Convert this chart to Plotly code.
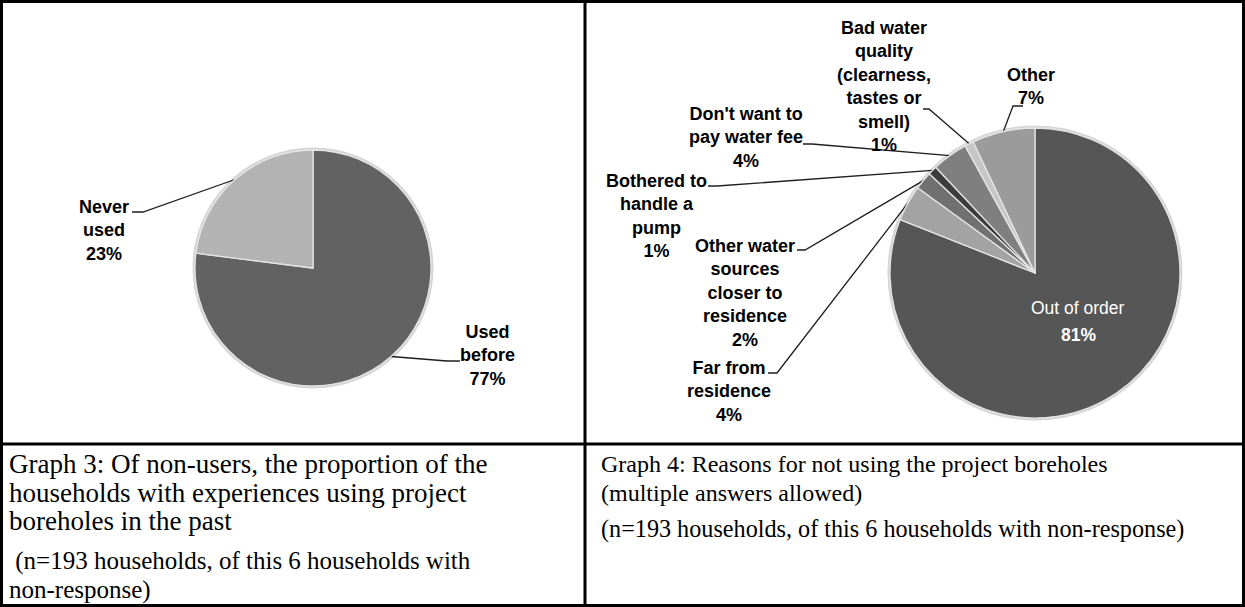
import math
import plotly.graph_objects as go

W, H = 1245, 607

# ---------------- data ----------------
g3_labels = ["Used before", "Never used"]
g3_values = [77, 23]
g3_colors = ["#626262", "#b3b3b3"]
g3_text = ["Used<br>before", "Never<br>used"]

g4_labels = ["Out of order", "Far from residence",
             "Other water sources closer to residence",
             "Bothered to handle a pump", "Don't want to pay water fee",
             "Bad water quality (clearness, tastes or smell)", "Other"]
g4_values = [81, 4, 2, 1, 4, 1, 7]
g4_colors = ["#565656", "#a3a3a3", "#707070", "#3c3c3c", "#7f7f7f", "#c6c6c6", "#9b9b9b"]
g4_text = ["Out of order", "Far from<br>residence",
           "Other water<br>sources<br>closer to<br>residence",
           "Bothered to<br>handle a<br>pump", "Don't want to<br>pay water fee",
           "Bad water<br>quality<br>(clearness,<br>tastes or<br>smell)", "Other"]

cap3 = ["Graph 3: Of non-users, the proportion of the",
        "households with experiences using project",
        "boreholes in the past"]
cap3_note = [" (n=193 households, of this 6 households with", "non-response)"]
cap4 = ["Graph 4: Reasons for not using the project boreholes",
        "(multiple answers allowed)"]
cap4_note = ["(n=193 households, of this 6 households with non-response)"]

# ---------------- layout (pixel positions) ----------------
P3 = dict(cx=313, cy=268, r=118)
P4 = dict(cx=1035, cy=273, r=145)

# label block centre, stub start/end for each slice (None = no label outside)
g3_lab = [dict(x=487, y=355, stub=(460, 447, 361)),
          dict(x=104, y=230, stub=(132, 143, 212))]
g4_lab = [None,
          dict(x=729, y=391, stub=(768, 777, 373)),
          dict(x=745, y=293, stub=(797, 805, 250)),
          dict(x=656, y=216, stub=(708, 717, 186)),
          dict(x=746, y=137.5, stub=(803, 812, 144)),
          dict(x=884, y=86.5, stub=(923, 929, 109)),
          dict(x=1031, y=86.5, stub=(1023, 1013, 106))]

SANS = "Liberation Sans, Arial, sans-serif"
SERIF = "Liberation Serif, Times New Roman, serif"
LABEL_FONT = dict(family=SANS, size=18, color="#000000")
CAP3_FONT = dict(family=SERIF, size=27, color="#000000")
NOTE3_FONT = dict(family=SERIF, size=25, color="#000000")
CAP4_FONT = dict(family=SERIF, size=24, color="#000000")
NOTE4_FONT = dict(family=SERIF, size=24.2, color="#000000")


def domain(p):
    return dict(x=[(p["cx"] - p["r"]) / W, (p["cx"] + p["r"]) / W],
                y=[1 - (p["cy"] + p["r"]) / H, 1 - (p["cy"] - p["r"]) / H])


def mid_points(values, p):
    tot = float(sum(values))
    out, cum = [], 0.0
    for v in values:
        f = (cum + v / 2.0) / tot
        a = 2 * math.pi * f
        out.append((p["cx"] + p["r"] * math.sin(a), p["cy"] - p["r"] * math.cos(a)))
        cum += v
    return out


fig = go.Figure()

for labels, values, colors, p in [(g3_labels, g3_values, g3_colors, P3),
                                  (g4_labels, g4_values, g4_colors, P4)]:
    fig.add_trace(go.Pie(labels=labels, values=values, sort=False, direction="clockwise",
                         rotation=0, textinfo="none", hoverinfo="label+percent",
                         marker=dict(colors=colors, line=dict(color="#e4e4e4", width=1.3)),
                         domain=domain(p), showlegend=False))

annotations = []
# leader lines + labels
for labels, values, texts, labs, p in [(g3_labels, g3_values, g3_text, g3_lab, P3),
                                       (g4_labels, g4_values, g4_text, g4_lab, P4)]:
    mids = mid_points(values, p)
    for i, lab in enumerate(labs):
        if lab is None:
            continue
        sx0, sx1, sy = lab["stub"]
        mx, my = mids[i]
        fig.add_trace(go.Scatter(x=[sx0, sx1, mx], y=[sy, sy, my], mode="lines",
                                 line=dict(color="#1e1e1e", width=1.3),
                                 hoverinfo="skip", showlegend=False))
        annotations.append(dict(x=lab["x"], y=lab["y"], xref="x", yref="y",
                                text="<b>%s<br>%d%%</b>" % (texts[i], values[i]),
                                showarrow=False, xanchor="center", yanchor="middle",
                                align="center", font=LABEL_FONT))

# inside label for the big slice
annotations.append(dict(x=1078, y=308, xref="x", yref="y", text=g4_text[0],
                        showarrow=False, xanchor="center", yanchor="middle",
                        font=dict(family=SANS, size=17.5, color="#ffffff")))
annotations.append(dict(x=1078, y=335, xref="x", yref="y", text="<b>%d%%</b>" % g4_values[0],
                        showarrow=False, xanchor="center", yanchor="middle",
                        font=dict(family=SANS, size=17.5, color="#ffffff")))

# captions
for i, t in enumerate(cap3):
    annotations.append(dict(x=7, y=464 + 28.5 * i, xref="x", yref="y", text=t, showarrow=False,
                            xanchor="left", yanchor="middle", font=CAP3_FONT))
for i, t in enumerate(cap3_note):
    annotations.append(dict(x=7, y=561 + 29 * i, xref="x", yref="y", text=t, showarrow=False,
                            xanchor="left", yanchor="middle", font=NOTE3_FONT))
for i, t in enumerate(cap4):
    annotations.append(dict(x=599, y=464 + 28.5 * i, xref="x", yref="y", text=t, showarrow=False,
                            xanchor="left", yanchor="middle", font=CAP4_FONT))
for i, t in enumerate(cap4_note):
    annotations.append(dict(x=599, y=529 + 29 * i, xref="x", yref="y", text=t, showarrow=False,
                            xanchor="left", yanchor="middle", font=NOTE4_FONT))

# table borders + soft rim behind each pie
shapes = []
for p in (P3, P4):
    shapes.append(dict(type="circle", xref="x", yref="y", layer="below",
                       x0=p["cx"] - p["r"] - 1.5, x1=p["cx"] + p["r"] + 1.5,
                       y0=p["cy"] - p["r"] - 1.5, y1=p["cy"] + p["r"] + 1.5,
                       line=dict(color="#d6d6d6", width=2), fillcolor="#d6d6d6"))
shapes += [
    dict(type="rect", xref="x", yref="y", x0=1.5, x1=W - 1.5, y0=1.5, y1=H - 1.5,
         line=dict(color="#000000", width=3)),
    dict(type="line", xref="x", yref="y", x0=585, x1=585, y0=0, y1=H,
         line=dict(color="#000000", width=3)),
    dict(type="line", xref="x", yref="y", x0=0, x1=W, y0=444, y1=444,
         line=dict(color="#000000", width=3)),
]

fig.update_layout(
    width=W, height=H, autosize=False,
    margin=dict(l=0, r=0, t=0, b=0, pad=0),
    paper_bgcolor="#ffffff", plot_bgcolor="rgba(0,0,0,0)",
    xaxis=dict(range=[0, W], visible=False, fixedrange=True),
    yaxis=dict(range=[H, 0], visible=False, fixedrange=True),
    annotations=annotations, shapes=shapes, showlegend=False,
)

fig.write_html("out.html")
